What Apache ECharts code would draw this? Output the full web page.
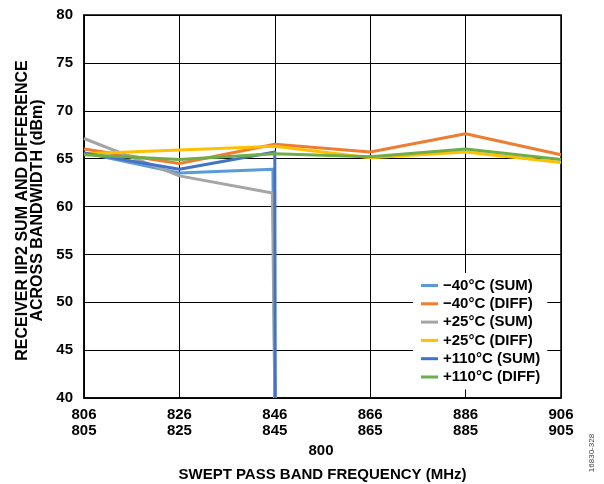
<!DOCTYPE html>
<html>
<head>
<meta charset="utf-8">
<script src="https://cdn.jsdelivr.net/npm/echarts@6/dist/echarts.min.js"></script>
<style>
  html, body { margin: 0; padding: 0; background: #fff; }
  #main { width: 604px; height: 484px; }
</style>
</head>
<body>
<div id="main"></div>
<script>
// x positions (MHz, upper label) and tick labels
var freq = [806, 826, 846, 866, 886, 906];
var freqLower = ['805', '825', '845', '865', '885', '905'];

// DIFF series, one value per freq
var m40Diff = [66.0, 64.5, 66.5, 65.7, 67.6, 65.4];
var p25Diff = [65.5, 65.9, 66.3, 65.1, 65.7, 64.6];
var p110Diff = [65.4, 64.9, 65.5, 65.2, 66.0, 64.9];

// SUM series stop near 846 and fall to the floor
var m40SumX = [806, 826, 845.6, 846];
var m40Sum = [65.6, 63.5, 63.9, 40];
var p25SumX = [806, 826, 845.5, 846];
var p25Sum = [67.1, 63.2, 61.4, 40];
var p110SumX = [806, 826, 846, 846.1];
var p110Sum = [65.6, 63.9, 65.7, 40];

var names = ['\u221240\u00b0C (SUM)', '\u221240\u00b0C (DIFF)', '+25\u00b0C (SUM)',
             '+25\u00b0C (DIFF)', '+110\u00b0C (SUM)', '+110\u00b0C (DIFF)'];
var colors = ['#5B9BD5', '#ED7D31', '#A5A5A5', '#FFC000', '#4472C4', '#70AD47'];

function pairs(xs, ys) {
  return xs.map(function (x, i) { return [x, ys[i]]; });
}

var seriesData = [
  pairs(m40SumX, m40Sum),
  pairs(freq, m40Diff),
  pairs(p25SumX, p25Sum),
  pairs(freq, p25Diff),
  pairs(p110SumX, p110Sum),
  pairs(freq, p110Diff)
];

var font = 'Liberation Sans, Arial, sans-serif';

var chart = echarts.init(document.getElementById('main'));
var option = {
  animation: false,
  color: colors,
  grid: {
    left: 84, right: 43, top: 15, bottom: 86,
    outerBoundsMode: 'none',
    show: true, borderColor: '#000', borderWidth: 1.5
  },
  legend: {
    orient: 'vertical',
    left: 413, top: 273,
    padding: [5, 7, 5, 8],
    backgroundColor: '#fff',
    itemWidth: 17, itemHeight: 3, itemGap: 3.3,
    icon: 'rect',
    data: names,
    textStyle: { fontFamily: font, fontWeight: 'bold', fontSize: 15, lineHeight: 15, color: '#000' }
  },
  xAxis: {
    type: 'value',
    min: 806, max: 906, interval: 20,
    name: 'SWEPT PASS BAND FREQUENCY (MHz)',
    nameLocation: 'middle',
    nameGap: 69,
    nameTextStyle: { fontFamily: font, fontWeight: 'bold', fontSize: 15, color: '#000' },
    axisLine: { show: true, lineStyle: { color: '#000', width: 1.5 } },
    axisTick: { show: false },
    splitLine: { show: true, lineStyle: { color: '#000', width: 1 } },
    axisLabel: {
      margin: 9,
      fontFamily: font, fontWeight: 'bold', fontSize: 15, lineHeight: 16, color: '#000',
      formatter: function (v) {
        var i = freq.indexOf(v);
        return v + '\n' + (i >= 0 ? freqLower[i] : '');
      }
    }
  },
  yAxis: {
    type: 'value',
    min: 40, max: 80, interval: 5,
    name: 'RECEIVER IIP2 SUM AND DIFFERENCE\nACROSS BANDWIDTH (dBm)',
    nameLocation: 'middle',
    nameGap: 37,
    nameTextStyle: { fontFamily: font, fontWeight: 'bold', fontSize: 16, lineHeight: 15, color: '#000', align: 'center', padding: [0, 8, 0, 0] },
    axisLine: { show: true, lineStyle: { color: '#000', width: 1.5 } },
    axisTick: { show: false },
    splitLine: { show: true, lineStyle: { color: '#000', width: 1 } },
    axisLabel: { margin: 11, fontFamily: font, fontWeight: 'bold', fontSize: 15, color: '#000' }
  },
  graphic: [
    {
      type: 'text', x: 321, y: 451,
      style: { text: '800', fill: '#000', font: 'bold 15px ' + font, textAlign: 'center', textVerticalAlign: 'middle' }
    },
    {
      type: 'text', x: 592, y: 453, rotation: Math.PI / 2,
      style: { text: '16830-328', fill: '#444', font: '8px ' + font, textAlign: 'center', textVerticalAlign: 'middle' }
    }
  ],
  series: seriesData.map(function (d, i) {
    return {
      name: names[i],
      type: 'line',
      data: d,
      symbol: 'none',
      lineStyle: { width: 3, color: colors[i], join: 'round' },
      z: 2 + i
    };
  })
};
chart.setOption(option);
</script>
</body>
</html>
